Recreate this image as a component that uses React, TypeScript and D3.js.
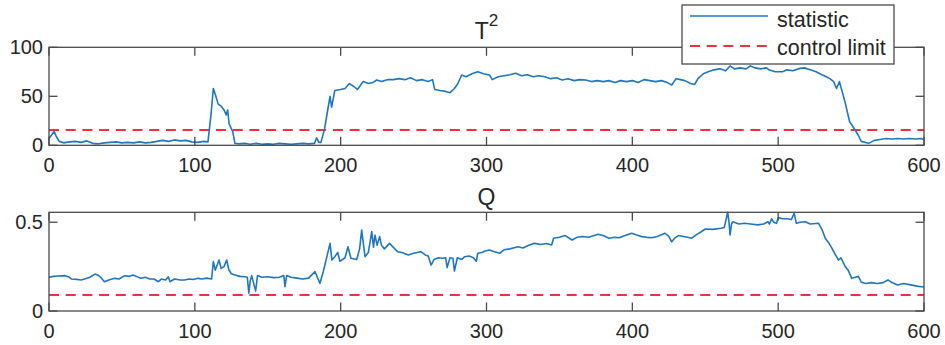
import React from "react";
import * as d3 from "d3";

// ---------- data ----------
const xTickValues = [0, 100, 200, 300, 400, 500, 600];
const t2TickValues = [0, 50, 100];
const qTickValues = [0, 0.5];
const t2Limit = 15.5;
const qLimit = 0.09;

const t2Idx = [0, 2, 3.5, 5, 7, 10, 14, 18, 22, 26, 30, 34, 38, 42, 46, 50, 54, 58, 62, 66, 70, 74, 78, 82, 86, 90, 94, 98, 102, 106, 109, 111, 112.7, 114, 116, 118, 120, 121.5, 122.5, 123.5, 125, 126, 127.5, 130, 134, 138, 142, 146, 150, 154, 158, 162, 166, 170, 174, 178, 182, 183.5, 185, 186.5, 189, 191, 192.7, 193.8, 196, 200, 203, 206, 209, 211.5, 214, 215.5, 219, 222, 224.7, 228, 232, 236, 240, 244, 248, 252, 256, 260, 263, 264.5, 268, 272, 275, 278, 280, 283, 286, 290, 294, 298, 302, 304, 308, 312, 316, 320, 324, 328, 332, 336, 340, 344, 348, 352, 356, 360, 364, 368, 372, 376, 380, 384, 388, 392, 396, 400, 404, 408, 412, 416, 420, 424, 427, 430, 433, 436, 440, 442.6, 445, 448.7, 452, 456, 460, 464, 467, 470, 474, 478, 481, 484, 488, 492, 494, 498, 503, 506, 510, 515, 518, 522, 526, 530, 533, 535.5, 538, 540, 542, 545.8, 549, 552.8, 555, 557, 562, 566, 570, 574, 578, 582, 586, 590, 594, 598, 600];
const t2Val = [7, 11, 14, 9, 4, 2.5, 3.5, 4, 3, 4.5, 2, 1.5, 2.5, 3, 3.5, 2.5, 3, 2.5, 3.5, 2.5, 3, 4, 5, 4, 5.5, 4.5, 5, 3.5, 3, 4, 3.5, 30, 58, 52, 42, 40, 36, 31, 36, 22, 17, 14, 2, 1.5, 2, 1, 2, 1, 1.5, 1, 2, 1.5, 1, 1.5, 2, 1.5, 2, 7.5, 3, 3, 17, 35, 50, 39, 56, 57, 58, 63, 60, 57, 62, 65, 63, 64, 66.6, 65, 67, 67, 68, 67, 69, 66, 67, 65, 67, 57, 56, 55, 53.7, 58, 62, 71.7, 70, 73, 75, 73, 71.7, 67, 70, 71, 72, 73.5, 71, 72, 70, 71, 70, 68, 69, 66.6, 68, 66, 67, 66.6, 65, 66, 65, 66, 64, 66, 65, 66, 64, 67, 66, 65, 66, 64, 61.5, 68, 67, 66, 63, 62, 68, 73, 75, 77, 78, 76, 81, 78, 79, 78, 81, 79, 78, 79, 76.8, 75, 75, 77, 76, 78.5, 79, 77, 75, 72, 70, 68, 65, 58, 65, 44.5, 24, 15.6, 10, 4, 2, 5, 6, 7, 6.5, 7, 6.5, 7, 6.5, 7, 6];

const qIdx = [0, 3, 6, 11, 14, 15.5, 19, 22, 25, 28, 31.5, 34, 36, 38, 41, 45, 48, 52, 55, 57.6, 60, 63, 66, 69, 72, 75, 77, 80, 81.8, 83, 86, 90, 93, 96, 99, 102, 105, 108, 111.5, 112.7, 114, 116.6, 118, 120, 121.8, 123.4, 125, 127.5, 131, 134.4, 136, 137, 138, 139, 140.5, 141.7, 143, 146, 150, 154, 158, 161, 161.8, 163, 166, 170, 174, 178, 182.4, 184, 185.8, 188, 190, 192.7, 194, 196, 198, 199.5, 203, 205, 207, 211, 213, 214.4, 216.7, 219, 221.3, 222.5, 223.5, 225, 226.7, 228, 230, 233.5, 236, 239, 242, 246.4, 250, 255, 258, 260, 262, 264, 267, 270, 272, 273, 275, 277, 278, 280, 283, 285, 288, 291, 293, 294, 297, 299, 302, 305, 309, 312, 316, 321.6, 325, 329, 333, 337, 341, 344.7, 346, 350, 354, 358.7, 362, 366, 370, 376.5, 380, 384, 388, 391, 395, 399.6, 403, 406.5, 410, 413.4, 417, 422.4, 425, 427, 429, 431.6, 435, 438, 440.7, 444, 447, 450, 455, 461, 463, 465.4, 466.3, 467, 468, 469, 473, 477, 481, 486, 490, 493, 494, 495.5, 497, 498.9, 500, 503, 506, 509, 511, 512.5, 515, 518.5, 522, 527.7, 530, 532.3, 535, 536.9, 539, 541.4, 543, 546, 548, 550.4, 553, 555, 557, 560, 564, 568, 572, 575.3, 578, 582, 586, 591, 595, 598.4, 600];
const qVal = [0.19, 0.195, 0.197, 0.199, 0.19, 0.18, 0.178, 0.175, 0.182, 0.19, 0.208, 0.2, 0.185, 0.165, 0.175, 0.184, 0.18, 0.199, 0.195, 0.203, 0.195, 0.184, 0.19, 0.18, 0.18, 0.165, 0.18, 0.175, 0.193, 0.165, 0.18, 0.175, 0.175, 0.18, 0.177, 0.184, 0.18, 0.185, 0.18, 0.278, 0.23, 0.287, 0.24, 0.25, 0.287, 0.231, 0.21, 0.203, 0.195, 0.193, 0.19, 0.1, 0.17, 0.199, 0.15, 0.113, 0.2, 0.19, 0.193, 0.188, 0.19, 0.2, 0.137, 0.2, 0.19, 0.185, 0.18, 0.185, 0.222, 0.19, 0.156, 0.22, 0.287, 0.381, 0.287, 0.306, 0.33, 0.28, 0.3, 0.362, 0.297, 0.29, 0.35, 0.456, 0.306, 0.33, 0.447, 0.36, 0.428, 0.37, 0.419, 0.37, 0.35, 0.381, 0.36, 0.334, 0.33, 0.316, 0.325, 0.334, 0.316, 0.31, 0.259, 0.29, 0.3, 0.297, 0.3, 0.245, 0.3, 0.297, 0.225, 0.3, 0.29, 0.306, 0.31, 0.3, 0.28, 0.325, 0.33, 0.338, 0.344, 0.335, 0.325, 0.345, 0.35, 0.362, 0.355, 0.37, 0.381, 0.375, 0.38, 0.372, 0.41, 0.415, 0.425, 0.4, 0.415, 0.42, 0.415, 0.432, 0.425, 0.41, 0.415, 0.413, 0.425, 0.438, 0.428, 0.419, 0.415, 0.413, 0.42, 0.438, 0.42, 0.39, 0.41, 0.425, 0.42, 0.415, 0.41, 0.43, 0.445, 0.462, 0.46, 0.466, 0.47, 0.556, 0.5, 0.428, 0.49, 0.503, 0.49, 0.494, 0.49, 0.485, 0.49, 0.503, 0.49, 0.519, 0.5, 0.494, 0.526, 0.52, 0.52, 0.515, 0.55, 0.494, 0.5, 0.503, 0.49, 0.494, 0.46, 0.41, 0.38, 0.353, 0.32, 0.287, 0.3, 0.25, 0.23, 0.184, 0.19, 0.195, 0.162, 0.155, 0.16, 0.155, 0.16, 0.175, 0.16, 0.147, 0.155, 0.147, 0.14, 0.137, 0.135];

// ---------- styles ----------
const FONT = "'Liberation Sans', Arial, Helvetica, sans-serif";
const TEXT = "#262626";
const AXIS = "#4a4a4a";
const BLUE = "#1f77c0";
const RED = "#f0303c";
const DASH = "10 6.7";

type PanelProps = {
  idx: number[];
  val: number[];
  limit: number;
  yDomain: [number, number];
  yTicks: number[];
  top: number;
  bottom: number;
  title: React.ReactNode;
  titleY: number;
  yFmt: (v: number) => string;
};

const LEFT = 49;
const RIGHT = 924;
const TICK = 8.5;

function Panel({ idx, val, limit, yDomain, yTicks, top, bottom, title, titleY, yFmt }: PanelProps) {
  const x = d3.scaleLinear().domain([0, 600]).range([LEFT, RIGHT]);
  const y = d3.scaleLinear().domain(yDomain).range([bottom, top]);
  const pts: [number, number][] = idx.map((d, i) => [d, val[i]]);
  const line = d3
    .line<[number, number]>()
    .x((d) => x(d[0]))
    .y((d) => y(d[1]));
  return (
    <g>
      <text x={(LEFT + RIGHT) / 2} y={titleY} textAnchor="middle" fontSize={23} fill={TEXT} fontFamily={FONT}>
        {title}
      </text>
      <rect x={LEFT} y={top} width={RIGHT - LEFT} height={bottom - top} fill="white" stroke="none" />
      <line x1={x(0)} x2={x(600)} y1={y(limit)} y2={y(limit)} stroke={RED} strokeWidth={2} strokeDasharray={DASH} />
      <path d={line(pts) || ""} fill="none" stroke={BLUE} strokeWidth={1.6} strokeLinejoin="round" />
      <rect x={LEFT} y={top} width={RIGHT - LEFT} height={bottom - top} fill="none" stroke={AXIS} strokeWidth={1.3} />
      {xTickValues.map((t) => (
        <g key={"x" + t}>
          <line x1={x(t)} x2={x(t)} y1={bottom} y2={bottom - TICK} stroke={AXIS} strokeWidth={1.3} />
          <line x1={x(t)} x2={x(t)} y1={top} y2={top + TICK} stroke={AXIS} strokeWidth={1.3} />
          <text x={x(t)} y={bottom + 26.5} textAnchor="middle" fontSize={20} fill={TEXT} fontFamily={FONT}>
            {t}
          </text>
        </g>
      ))}
      {yTicks.map((t) => (
        <g key={"y" + t}>
          <line x1={LEFT} x2={LEFT + TICK} y1={y(t)} y2={y(t)} stroke={AXIS} strokeWidth={1.3} />
          <line x1={RIGHT} x2={RIGHT - TICK} y1={y(t)} y2={y(t)} stroke={AXIS} strokeWidth={1.3} />
          <text x={LEFT - 6} y={y(t) + 7} textAnchor="end" fontSize={20} fill={TEXT} fontFamily={FONT}>
            {yFmt(t)}
          </text>
        </g>
      ))}
    </g>
  );
}

export default function App() {
  return (
    <svg
      width={945}
      height={345}
      style={{ position: "absolute", left: 0, top: 0, background: "white" }}
    >
      <rect x={0} y={0} width={945} height={345} fill="white" />
      <Panel
        idx={t2Idx}
        val={t2Val}
        limit={t2Limit}
        yDomain={[0, 100]}
        yTicks={t2TickValues}
        top={47.3}
        bottom={145.3}
        titleY={39.3}
        title={
          <>
            T<tspan style={{ fontSize: "17px" }} dy={-13}>2</tspan>
          </>
        }
        yFmt={(v) => String(v)}
      />
      <Panel
        idx={qIdx}
        val={qVal}
        limit={qLimit}
        yDomain={[0, 0.556]}
        yTicks={qTickValues}
        top={212.3}
        bottom={311}
        titleY={205}
        title={"Q"}
        yFmt={(v) => String(v)}
      />
      {/* legend */}
      <g>
        <rect x={682} y={5} width={212} height={59} fill="white" stroke={AXIS} strokeWidth={1.3} />
        <line x1={690} x2={768} y1={16} y2={16} stroke={BLUE} strokeWidth={1.6} />
        <text x={777} y={26.5} fontSize={21.5} fill={TEXT} fontFamily={FONT}>
          statistic
        </text>
        <line x1={690} x2={768} y1={46} y2={46} stroke={RED} strokeWidth={2} strokeDasharray={DASH} />
        <text x={777} y={55} fontSize={21.5} fill={TEXT} fontFamily={FONT}>
          control limit
        </text>
      </g>
    </svg>
  );
}
